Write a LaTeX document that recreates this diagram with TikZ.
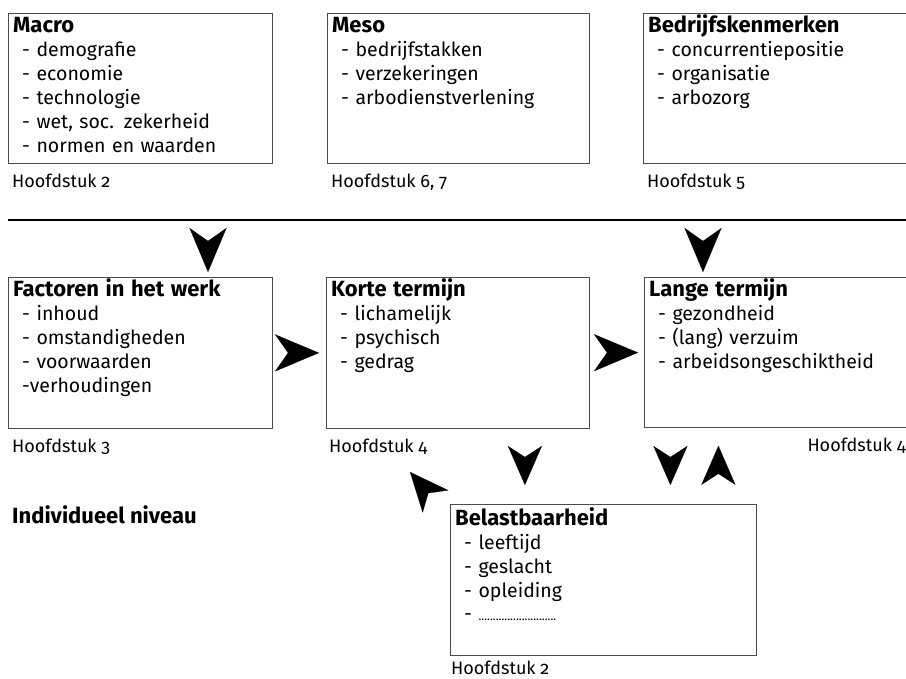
\documentclass[tikz,border=0pt]{standalone}
\usepackage{fontspec}
\setmainfont{Fira Sans}[Numbers=OldStyle]
\usetikzlibrary{arrows.meta,calc}

\tikzset{
  vak/.style={draw=black!70, line width=0.8pt, inner sep=0pt, anchor=north west},
  lijst/.style={anchor=base west, inner sep=0pt, text width=260pt, align=left,
    font=\fontsize{19.5}{24}\selectfont},
  hfd/.style={anchor=base west, inner sep=0pt, font=\fontsize{18}{24}\selectfont},
  kop/.style={draw=white, line width=0.1pt,
    -{Stealth[length=44pt,width=37pt,inset=13pt,color=black,fill=black]}},
  kleinkop/.style={draw=white, line width=0.1pt,
    -{Stealth[length=39pt,width=34pt,inset=11pt,color=black,fill=black]}},
}
\newcommand{\titel}[1]{{\bfseries\fontsize{22}{24}\selectfont #1}}
\newcommand{\punt}{\hspace*{9pt}}

\begin{document}
\begin{tikzpicture}[x=1pt,y=-1pt]
\useasboundingbox (0,0) rectangle (906,679);
% bovenste rij
\node[vak, minimum width=264pt, minimum height=150pt] (macro) at (8,13) {};
\node[vak, minimum width=262pt, minimum height=150pt] (meso) at (327,13) {};
\node[vak, minimum width=270pt, minimum height=150pt] (bedrijf) at (643,13) {};
\node[lijst] (macrotekst) at ($(macro.north west)+(5,20)$) {\titel{Macro}\\
  \punt- demografie\\ \punt- economie\\ \punt- technologie\\
  \punt- wet, soc. zekerheid\\ \punt- normen en waarden};
\node[lijst] (mesotekst) at ($(meso.north west)+(5,20)$) {\titel{Meso}\\
  \punt- bedrijfstakken\\ \punt- verzekeringen\\ \punt- arbodienstverlening};
\node[lijst] (bedrijftekst) at ($(bedrijf.north west)+(5,20)$) {\titel{Bedrijfskenmerken}\\
  \punt- concurrentiepositie\\ \punt- organisatie\\ \punt- arbozorg};
\node[hfd] (macrohfd) at ($(macro.south west)+(4,24)$) {Hoofdstuk 2};
\node[hfd] (mesohfd) at ($(meso.south west)+(4,24)$) {Hoofdstuk 6, 7};
\node[hfd] (bedrijfhfd) at ($(bedrijf.south west)+(4,24)$) {Hoofdstuk 5};
% scheidingslijn
\coordinate (links) at (8,220);
\coordinate (rechts) at (906,220);
\draw[line width=1.6pt] (links) -- (rechts);
% middelste rij
\node[vak, minimum width=264pt, minimum height=151pt] (factoren) at (8,277) {};
\node[vak, minimum width=263pt, minimum height=151pt] (korte) at (326,277) {};
\node[vak, minimum width=266pt, minimum height=150pt] (lange) at (644,277) {};
\node[lijst] (factorentekst) at ($(factoren.north west)+(5,20)$) {\titel{Factoren in het werk}\\
  \punt- inhoud\\ \punt- omstandigheden\\ \punt- voorwaarden\\ \punt-verhoudingen};
\node[lijst] (kortetekst) at ($(korte.north west)+(5,20)$) {\titel{Korte termijn}\\
  \punt- lichamelijk\\ \punt- psychisch\\ \punt- gedrag};
\node[lijst] (langetekst) at ($(lange.north west)+(5,20)$) {\titel{Lange termijn}\\
  \punt- gezondheid\\ \punt- (lang) verzuim\\ \punt- arbeidsongeschiktheid};
\node[hfd] (factorenhfd) at ($(factoren.south west)+(4,24)$) {Hoofdstuk 3};
\node[hfd] (kortehfd) at ($(korte.south west)+(3,24)$) {Hoofdstuk 4};
\node[hfd, anchor=base east] (langehfd) at ($(lange.south east)+(-5,24)$) {Hoofdstuk 4};
% individueel niveau
\node[anchor=base west, inner sep=0pt] (niveau) at (12,523) {\titel{Individueel niveau}};
\node[vak, minimum width=306pt, minimum height=151pt] (belast) at (450,504) {};
\node[lijst] (belasttekst) at ($(belast.north west)+(5,21)$) {\titel{Belastbaarheid}\\
  \punt- leeftijd\\ \punt- geslacht\\ \punt- opleiding\\
  \punt- {\fontsize{12}{24}\selectfont...........................}};
\node[hfd] (belasthfd) at ($(belast.south west)+(1,19)$) {Hoofdstuk 2};
% pijlen
\coordinate (op1) at (208,226);
\coordinate (op2) at (703,225);
\draw[kop, shorten >=5pt] (op1) -- (op1 |- factoren.north);
\draw[kop, shorten >=5pt] (op2) -- (op2 |- lange.north);
\draw[kop, shorten <=5pt, shorten >=7pt] (factoren) -- (korte);
\draw[kop, shorten <=8pt, shorten >=6pt] (korte) -- (lange);
\draw[kleinkop, shorten <=19pt, shorten >=19pt] ([xshift=67pt]korte.south) -- ([xshift=67pt]korte.south |- belast.north);
\draw[kleinkop] ($(belast.north west)+(-14,-2)$) -- ($(belast.north west)+(-40,-32)$);
\draw[kleinkop, shorten <=18pt, shorten >=19pt] ([xshift=-107pt]lange.south) -- ([xshift=-107pt]lange.south |- belast.north);
\draw[kleinkop, shorten <=19pt, shorten >=18pt] ([xshift=-59pt]lange.south |- belast.north) -- ([xshift=-59pt]lange.south);
\end{tikzpicture}
\end{document}
